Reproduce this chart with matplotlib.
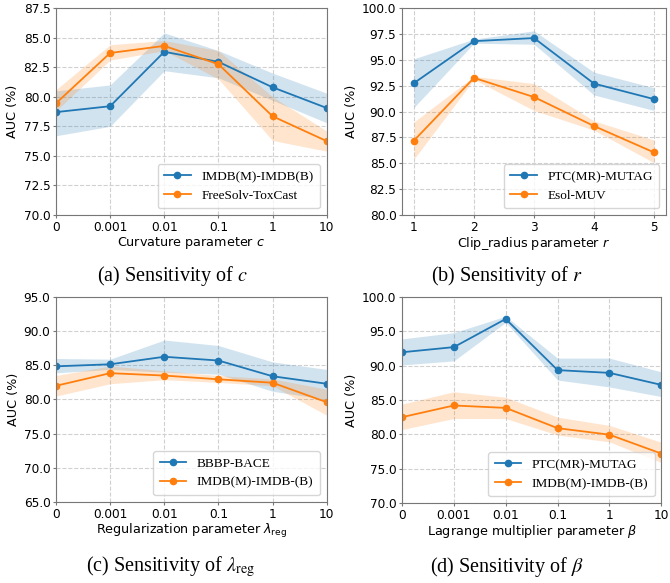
import matplotlib
matplotlib.use("Agg")
import matplotlib.pyplot as plt
import numpy as np

plt.rcParams['mathtext.fontset'] = 'dejavusans'

BLUE = '#1f77b4'
ORANGE = '#ff7f0e'

log_ticks = ['0', '0.001', '0.01', '0.1', '1', '10']
r_ticks = [1, 2, 3, 4, 5]

# (a) curvature c
a_blue = [78.7, 79.2, 83.8, 82.95, 80.8, 79.05]
a_blue_lo = [76.7, 77.5, 82.2, 81.6, 79.7, 77.8]
a_blue_hi = [80.5, 81.0, 85.4, 83.9, 82.0, 80.3]
a_orange = [79.45, 83.7, 84.3, 82.75, 78.35, 76.25]
a_orange_lo = [78.8, 83.1, 83.9, 81.5, 76.3, 75.4]
a_orange_hi = [80.6, 84.4, 84.75, 83.9, 80.0, 77.1]

# (b) clip radius r
b_blue = [92.75, 96.8, 97.1, 92.7, 91.2]
b_blue_lo = [90.4, 96.6, 96.5, 91.6, 90.1]
b_blue_hi = [95.1, 97.0, 97.8, 93.8, 92.3]
b_orange = [87.2, 93.25, 91.4, 88.6, 86.05]
b_orange_lo = [85.4, 93.1, 90.1, 88.2, 85.05]
b_orange_hi = [89.0, 93.4, 92.7, 89.1, 87.25]

# (c) regularization lambda_reg
c_blue = [84.85, 85.15, 86.25, 85.7, 83.4, 82.3]
c_blue_lo = [83.9, 84.4, 84.0, 83.7, 81.2, 80.0]
c_blue_hi = [86.0, 85.9, 88.7, 87.9, 85.5, 84.4]
c_orange = [82.0, 83.85, 83.5, 82.95, 82.45, 79.6]
c_orange_lo = [80.5, 82.3, 82.9, 82.5, 82.0, 77.7]
c_orange_hi = [83.5, 84.9, 84.2, 83.5, 83.0, 81.5]

# (d) Lagrange multiplier beta
d_blue = [91.95, 92.7, 96.8, 89.35, 88.95, 87.2]
d_blue_lo = [90.1, 90.7, 96.3, 87.9, 86.9, 85.5]
d_blue_hi = [93.9, 94.8, 97.2, 91.1, 91.1, 89.1]
d_orange = [82.5, 84.2, 83.85, 80.9, 79.95, 77.2]
d_orange_lo = [80.7, 82.3, 82.3, 79.9, 78.9, 75.9]
d_orange_hi = [84.4, 86.2, 85.4, 82.5, 81.3, 78.85]

fig = plt.figure(figsize=(6.7, 5.83), dpi=100)

TICK_FS = 8.7
LAB_FS = 9.2
LEG_FS = 9.5


def panel(rect, x, xt, series, ylim, yticks, xlabel, caption, cap_xy, log_like=True):
    ax = fig.add_axes(rect)
    for (y, lo, hi, color, label) in series:
        ax.fill_between(x, lo, hi, color=color, alpha=0.2, linewidth=0)
        ax.plot(x, y, '-o', color=color, lw=1.3, ms=4.5, label=label)
    ax.set_ylim(*ylim)
    ax.set_yticks(yticks)
    ax.set_yticklabels([f'{v:.1f}' for v in yticks])
    ax.set_xticks(x)
    ax.set_xticklabels(xt)
    if log_like:
        ax.set_xlim(x[0], x[-1])
    ax.grid(True, linestyle='--', color='#d0d0d0', linewidth=0.8)
    ax.set_axisbelow(True)
    for s in ax.spines.values():
        s.set_color('#777777')
    ax.tick_params(colors='#777777', labelcolor='black', labelsize=TICK_FS,
                   length=2.5, pad=1.5)
    ax.set_ylabel('AUC (%)', fontsize=LAB_FS, labelpad=3)
    ax.set_xlabel(xlabel, fontsize=LAB_FS, labelpad=1)
    ax.legend(loc='lower right', prop={'family': 'Liberation Serif', 'size': LEG_FS},
              framealpha=0.8, borderpad=0.5, handlelength=2.0)
    fig.text(cap_xy[0], cap_xy[1], caption, ha='center', va='center',
             fontsize=14.5, family='Liberation Serif', math_fontfamily='stix')
    return ax


x6 = np.arange(6)
panel([0.0836, 0.6312, 0.404, 0.355], x6, log_ticks,
      [(a_blue, a_blue_lo, a_blue_hi, BLUE, 'IMDB(M)-IMDB(B)'),
       (a_orange, a_orange_lo, a_orange_hi, ORANGE, 'FreeSolv-ToxCast')],
      (70, 87.5), np.arange(70, 87.6, 2.5), r'Curvature parameter $c$',
      r'(a) Sensitivity of $c$', (172 / 670, 1 - 276 / 583))

panel([0.6, 0.6312, 0.394, 0.355], np.array(r_ticks), [str(v) for v in r_ticks],
      [(b_blue, b_blue_lo, b_blue_hi, BLUE, 'PTC(MR)-MUTAG'),
       (b_orange, b_orange_lo, b_orange_hi, ORANGE, 'Esol-MUV')],
      (80, 100), np.arange(80, 100.1, 2.5), r'Clip_radius parameter $r$',
      r'(b) Sensitivity of $r$', (507 / 670, 1 - 276 / 583), log_like=False)

panel([0.0836, 0.139, 0.404, 0.3516], x6, log_ticks,
      [(c_blue, c_blue_lo, c_blue_hi, BLUE, 'BBBP-BACE'),
       (c_orange, c_orange_lo, c_orange_hi, ORANGE, 'IMDB(M)-IMDB-(B)')],
      (65, 95), np.arange(65, 95.1, 5), r'Regularization parameter $\lambda_{\mathrm{reg}}$',
      r'(c) Sensitivity of $\lambda_{\mathrm{reg}}$', (171 / 670, 1 - 567 / 583))

panel([0.6, 0.1372, 0.387, 0.3534], x6, log_ticks,
      [(d_blue, d_blue_lo, d_blue_hi, BLUE, 'PTC(MR)-MUTAG'),
       (d_orange, d_orange_lo, d_orange_hi, ORANGE, 'IMDB(M)-IMDB-(B)')],
      (70, 100), np.arange(70, 100.1, 5), r'Lagrange multiplier parameter $\beta$',
      r'(d) Sensitivity of $\beta$', (507 / 670, 1 - 567 / 583))

fig.savefig('out.png', dpi=100)
